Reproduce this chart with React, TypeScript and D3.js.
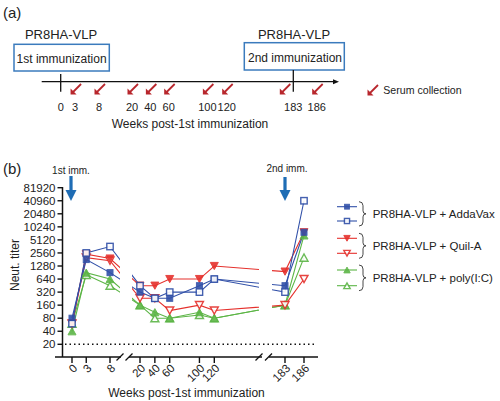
import React from "react";
import * as d3 from "d3";

// ---------- Panel (a) data ----------
const timelineWeeks = [0, 3, 8, 20, 40, 60, 100, 120, 183, 186];
const serumWeeks = [3, 8, 20, 40, 60, 100, 120, 183, 186];
const immunizationWeeks = [0, 183];

// ---------- Panel (b) data ----------
const weeks = [0, 3, 8, 20, 40, 60, 100, 120, 183, 186];
const addaVaxFilled = [80, 1800, 900, 320, 230, 230, 450, 640, 450, 7680];
const addaVaxOpen = [60, 2560, 3600, 450, 230, 320, 320, 640, 320, 40960];
const quilAFilled = [60, 2400, 1900, 450, 450, 640, 640, 1280, 950, 7680];
const quilAOpen = [60, 2000, 1700, 230, 230, 120, 160, 120, 160, 640];
const polyFilled = [40, 900, 640, 160, 110, 80, 110, 80, 160, 6500];
const polyOpen = [60, 800, 450, 160, 80, 80, 95, 80, 160, 2000];
const yTicks = [20, 40, 80, 160, 320, 640, 1280, 2560, 5120, 10240, 20480, 40960, 81920];
const legendLabels = ["PR8HA-VLP + AddaVax", "PR8HA-VLP + Quil-A", "PR8HA-VLP + poly(I:C)"];

const BLUE = "#3150a8";
const RED = "#e5302c";
const GREEN = "#5cb546";
const ARROW_BLUE = "#1f6db5";
const BOX_BLUE = "#3b7bbd";
const DARK_RED = "#b8262c";
const FONT = "'Liberation Sans', Arial, Helvetica, sans-serif";

type Shape = "square" | "triDown" | "triUp";
interface Series {
  values: number[];
  color: string;
  shape: Shape;
  filled: boolean;
}

// draw order: green, red, blue
const series: Series[] = [
  { values: polyOpen, color: GREEN, shape: "triUp", filled: false },
  { values: polyFilled, color: GREEN, shape: "triUp", filled: true },
  { values: quilAOpen, color: RED, shape: "triDown", filled: false },
  { values: quilAFilled, color: RED, shape: "triDown", filled: true },
  { values: addaVaxFilled, color: BLUE, shape: "square", filled: true },
  { values: addaVaxOpen, color: BLUE, shape: "square", filled: false },
];
const legendSeries: Series[] = [
  series[4], series[5], series[3], series[2], series[1], series[0],
];

function Marker({ x, y, s, k = 1 }: { x: number; y: number; s: Series; k?: number }) {
  const fill = s.filled ? s.color : "#fff";
  const sw = s.filled ? 1 : 1.4;
  if (s.shape === "square") {
    const h = (s.filled ? 3 : 3.2) * k;
    return <rect x={x - h} y={y - h} width={2 * h} height={2 * h} fill={fill} stroke={s.color} strokeWidth={sw} opacity={0.9} />;
  }
  const w = 4 * k, hh = 3.6 * k;
  const pts =
    s.shape === "triDown"
      ? [[x - w, y - hh], [x + w, y - hh], [x, y + hh]]
      : [[x - w, y + hh], [x + w, y + hh], [x, y - hh]];
  return <polygon points={pts.map((p) => p.join(",")).join(" ")} fill={fill} stroke={s.color} strokeWidth={sw} opacity={0.9} />;
}

function RedArrow({ cx, cy, c = DARK_RED }: { cx: number; cy: number; c?: string }) {
  return (
    <g>
      <line x1={cx + 5} y1={cy - 5} x2={cx - 3} y2={cy + 3} stroke={c} strokeWidth={1.8} />
      <polygon points={`${cx - 5.5},${cy + 5.5} ${cx - 5.5},${cy - 0.5} ${cx + 0.5},${cy + 5.5}`} fill={c} />
    </g>
  );
}

function BlueArrow({ x, y0, y1 }: { x: number; y0: number; y1: number }) {
  return (
    <g>
      <rect x={x - 1.6} y={y0} width={3.2} height={y1 - y0 - 9} fill={ARROW_BLUE} />
      <polygon points={`${x - 5.5},${y1 - 11} ${x + 5.5},${y1 - 11} ${x},${y1}`} fill={ARROW_BLUE} />
    </g>
  );
}

function Brace({ x, y0, y1 }: { x: number; y0: number; y1: number }) {
  const ym = (y0 + y1) / 2;
  const d = `M${x},${y0} Q${x + 4},${y0} ${x + 4},${y0 + 4} L${x + 4},${ym - 3} Q${x + 4},${ym} ${x + 7},${ym} Q${x + 4},${ym} ${x + 4},${ym + 3} L${x + 4},${y1 - 4} Q${x + 4},${y1} ${x},${y1}`;
  return <path d={d} fill="none" stroke="#333" strokeWidth={0.9} />;
}

export default function App() {
  // ---- panel (a) scale (piecewise) ----
  const tScale = d3
    .scaleLinear()
    .domain([0, 8, 20, 60, 120, 183, 186])
    .range([60.7, 99, 132, 168.7, 226.7, 293.3, 316.7]);
  const axisY = 81.7;

  // ---- panel (b) scales ----
  const segA = d3.scaleLinear().domain([0, 8]).range([72, 110]);
  const segB = d3.scaleLinear().domain([20, 120]).range([140, 214.3]);
  const segC = d3.scaleLinear().domain([183, 186]).range([285, 304]);
  const x = (w: number) => (w <= 8 ? segA(w) : w <= 120 ? segB(w) : segC(w));
  const y = d3.scaleLog().base(2).domain([20, 81920]).range([344.3, 187.7]);
  const line = d3
    .line<number>()
    .x((_, i) => x(weeks[i]))
    .y((v) => y(v));
  const xAxisY = 357;
  const yAxisX = 62.5;

  const clips = [
    { id: "clipA", x0: 0, x1: 120 },
    { id: "clipB", x0: 132, x1: 259 },
    { id: "clipC", x0: 272, x1: 500 },
  ];
  const axisSegs = [
    { x0: 55, x1: 121 },
    { x0: 129, x1: 262 },
    { x0: 269, x1: 318 },
  ];
  const slashXs = [120, 129, 259, 268.5];

  const legendRowsY = [206.7, 221, 238.3, 253.3, 270, 285.7];

  return (
    <svg width={500} height={401} style={{ position: "absolute", left: 0, top: 0, background: "#fff" }} fontFamily={FONT}>
      <rect width={500} height={401} fill="#fff" />
      <defs>
        {clips.map((c) => (
          <clipPath id={c.id} key={c.id}>
            <rect x={c.x0} y={150} width={c.x1 - c.x0} height={220} />
          </clipPath>
        ))}
      </defs>

      {/* ================= Panel (a) ================= */}
      <text x={3} y={18} fontSize={15} fill="#222">(a)</text>
      <text x={61} y={39} fontSize={13} textAnchor="middle" fill="#222">PR8HA-VLP</text>
      <text x={294} y={39} fontSize={13} textAnchor="middle" fill="#222">PR8HA-VLP</text>
      <rect x={14} y={44.3} width={95.3} height={26.7} fill="#fff" stroke={BOX_BLUE} strokeWidth={1.5} />
      <text x={61.6} y={62.5} fontSize={12} textAnchor="middle" fill="#222">1st immunization</text>
      <rect x={244.3} y={42.7} width={100} height={27.3} fill="#fff" stroke={BOX_BLUE} strokeWidth={1.5} />
      <text x={295} y={62} fontSize={12} textAnchor="middle" fill="#222">2nd immunization</text>

      <line x1={41.7} y1={axisY} x2={334} y2={axisY} stroke="#111" strokeWidth={1.3} />
      <polygon points={`${339},${axisY} ${333},${axisY - 2.5} ${333},${axisY + 2.5}`} fill="#111" />
      {immunizationWeeks.map((w) => (
        <line key={w} x1={tScale(w)} x2={tScale(w)} y1={w === 0 ? 74 : 70} y2={91.7} stroke="#111" strokeWidth={1.3} />
      ))}
      {serumWeeks.map((w) => (
        <RedArrow key={w} cx={tScale(w) + (w === 183 ? -8 : 1)} cy={89} />
      ))}
      {timelineWeeks.map((w) => (
        <text key={w} x={tScale(w)} y={111} fontSize={11} textAnchor="middle" fill="#222">{w}</text>
      ))}
      <text x={190} y={128} fontSize={12} textAnchor="middle" fill="#222">Weeks post-1st immunization</text>
      <RedArrow cx={373} cy={90} />
      <text x={383.3} y={94} fontSize={10.6} fill="#222">Serum collection</text>

      {/* ================= Panel (b) ================= */}
      <text x={3} y={174} fontSize={15} fill="#222">(b)</text>
      <text x={71} y={173.5} fontSize={10} textAnchor="middle" fill="#222">1st imm.</text>
      <BlueArrow x={71} y0={176} y1={201} />
      <text x={287} y={172} fontSize={10} textAnchor="middle" fill="#222">2nd imm.</text>
      <BlueArrow x={285} y0={177} y1={201} />

      {/* y axis */}
      <line x1={yAxisX} x2={yAxisX} y1={y(81920) - 0.7} y2={xAxisY} stroke="#111" strokeWidth={1.5} />
      {yTicks.map((t) => (
        <g key={t}>
          <line x1={yAxisX - 5} x2={yAxisX} y1={y(t)} y2={y(t)} stroke="#111" strokeWidth={1.4} />
          <text x={55.5} y={y(t)} dy="0.36em" fontSize={11.5} textAnchor="end" fill="#222">{t}</text>
        </g>
      ))}
      <text transform={`translate(19,${265}) rotate(-90)`} fontSize={12} textAnchor="middle" fill="#222">Neut. titer</text>

      {/* x axis */}
      {axisSegs.map((s, i) => (
        <line key={i} x1={s.x0} x2={s.x1} y1={xAxisY} y2={xAxisY} stroke="#111" strokeWidth={1.5} />
      ))}
      {slashXs.map((sx, i) => (
        <line key={i} x1={sx - 3.5} y1={xAxisY + 3.5} x2={sx + 3.5} y2={xAxisY - 3.5} stroke="#111" strokeWidth={1.3} />
      ))}
      {weeks.map((w) => (
        <g key={w}>
          <line x1={x(w)} x2={x(w)} y1={xAxisY} y2={xAxisY + 6} stroke="#111" strokeWidth={1.4} />
          <text transform={`translate(${x(w) + 3},${366}) rotate(-45)`} dy="0.36em" fontSize={11.5} textAnchor="end" fill="#222">{w}</text>
        </g>
      ))}
      <text x={186.5} y={397} fontSize={12} textAnchor="middle" fill="#222">Weeks post-1st immunization</text>

      {/* detection limit */}
      <line x1={65} x2={316} y1={y(20)} y2={y(20)} stroke="#111" strokeWidth={1.5} strokeDasharray="1.5,3" />

      {/* series lines */}
      {clips.map((c) => (
        <g key={c.id} clipPath={`url(#${c.id})`}>
          {series.map((s, i) => (
            <path key={i} d={line(s.values) || ""} fill="none" stroke={s.color} strokeWidth={1.1} />
          ))}
        </g>
      ))}
      {/* series markers */}
      {series.map((s, i) => (
        <g key={i}>
          {s.values.map((v, j) => (
            <Marker key={j} x={x(weeks[j])} y={y(v)} s={s} />
          ))}
        </g>
      ))}

      {/* legend */}
      {legendSeries.map((s, i) => (
        <g key={i}>
          <line x1={337} x2={357} y1={legendRowsY[i]} y2={legendRowsY[i]} stroke={s.color} strokeWidth={1.1} />
          <Marker x={347} y={legendRowsY[i]} s={s} k={0.8} />
        </g>
      ))}
      {legendLabels.map((l, i) => {
        const y0 = legendRowsY[2 * i] - 5;
        const y1 = legendRowsY[2 * i + 1] + 5;
        return (
          <g key={l}>
            <Brace x={359} y0={y0} y1={y1} />
            <text x={372.7} y={(y0 + y1) / 2} dy="0.36em" fontSize={11.5} fill="#222">{l}</text>
          </g>
        );
      })}
    </svg>
  );
}
